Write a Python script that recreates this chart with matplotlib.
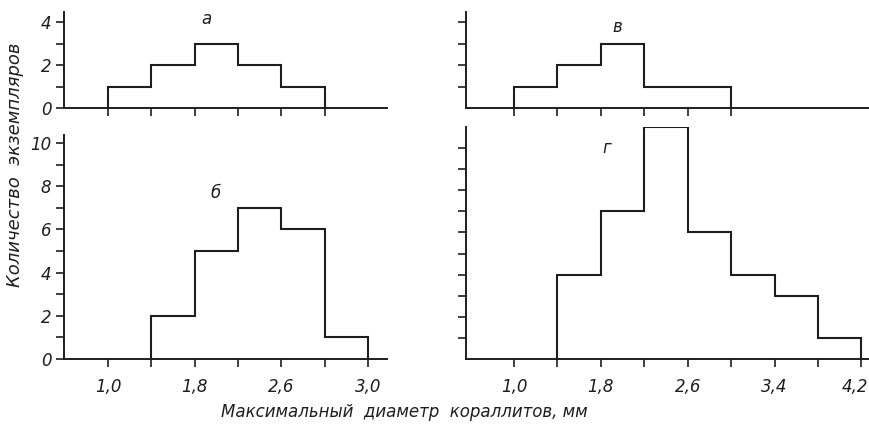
import numpy as np
import matplotlib.pyplot as plt
import matplotlib.transforms as mtransforms
from matplotlib.ticker import FixedLocator, MultipleLocator, NullFormatter

# histogram data (bin edges in mm, counts)
a_edges = [1.0, 1.4, 1.8, 2.2, 2.6, 3.0]
a_counts = [1, 2, 3, 2, 1]
b_edges = [1.4, 1.8, 2.2, 2.6, 3.0, 3.4]
b_counts = [2, 5, 7, 6, 1]
v_edges = [1.0, 1.4, 1.8, 2.2, 2.6, 3.0]
v_counts = [1, 2, 3, 1, 1]
g_edges = [1.4, 1.8, 2.2, 2.6, 3.0, 3.4, 3.8, 4.2]
g_counts = [4, 7, 11, 6, 4, 3, 1]

left_ticks = [1.0, 1.4, 1.8, 2.2, 2.6, 3.0, 3.4]
left_labels = ['1,0', '', '1,8', '', '2,6', '', '3,0']
right_ticks = [1.0, 1.4, 1.8, 2.2, 2.6, 3.0, 3.4, 3.8, 4.2]
right_labels = ['1,0', '', '1,8', '', '2,6', '', '3,4', '', '4,2']

W, H = 869, 425
ink = '#1e1e1e'
plt.rcParams['font.family'] = ['DejaVu Sans']
plt.rcParams['font.style'] = 'italic'

fig = plt.figure(figsize=(W / 100, H / 100), dpi=100)


def box(left, right, bottom, top):
    # pixel box -> figure fraction
    return [left / W, (H - bottom) / H, (right - left) / W, (bottom - top) / H]


def style(ax):
    for s in ['top', 'right']:
        ax.spines[s].set_visible(False)
    for s in ['left', 'bottom']:
        ax.spines[s].set_linewidth(1.4)
        ax.spines[s].set_color(ink)
    ax.tick_params(which='both', direction='out', length=6, width=1.2,
                   color=ink, labelcolor=ink, labelsize=12, pad=3)
    ax.patch.set_alpha(0)


ax_a = fig.add_axes(box(64, 387, 108, 12))
ax_b = fig.add_axes(box(64, 387, 359, 135))
ax_v = fig.add_axes(box(466, 869, 108, 12))
ax_g = fig.add_axes(box(466, 869, 359, 127))

panels = [
    (ax_a, a_edges, a_counts, 'а', (1.91, 4.15), 4.47),
    (ax_b, b_edges, b_counts, 'б', (1.99, 7.7), 10.37),
    (ax_v, v_edges, v_counts, 'в', (1.95, 3.75), 4.47),
    (ax_g, g_edges, g_counts, 'г', (1.85, 10.0), 11.0),
]

for ax, edges, counts, letter, pos, ytop in panels:
    style(ax)
    ax.stairs(counts, edges, baseline=0, fill=False, color=ink, linewidth=1.5)
    ax.set_ylim(0, ytop)
    ax.text(pos[0], pos[1], letter, fontsize=12, ha='center', va='center', color=ink)

for ax in (ax_a, ax_b):
    ax.set_xlim(0.594, 3.577)
for ax in (ax_v, ax_g):
    ax.set_xlim(0.558, 4.27)

# x ticks
ax_a.set_xticks(a_edges)
ax_a.xaxis.set_major_formatter(NullFormatter())
ax_v.set_xticks(v_edges)
ax_v.xaxis.set_major_formatter(NullFormatter())
ax_b.set_xticks(left_ticks)
ax_b.set_xticklabels(left_labels)
ax_g.set_xticks(right_ticks)
ax_g.set_xticklabels(right_labels)
for ax in (ax_b, ax_g):
    ax.tick_params(axis='x', pad=8)

# last label sits at the figure edge: nudge it left a little
last = ax_g.get_xticklabels()[-1]
last.set_transform(last.get_transform() +
                   mtransforms.ScaledTranslation(-6 / 100, 0, fig.dpi_scale_trans))

# y ticks
ax_a.yaxis.set_major_locator(FixedLocator([0, 2, 4]))
ax_a.yaxis.set_minor_locator(FixedLocator([1, 3]))
ax_a.set_yticklabels(['0', '2', '4'])
ax_b.yaxis.set_major_locator(FixedLocator([0, 2, 4, 6, 8, 10]))
ax_b.yaxis.set_minor_locator(MultipleLocator(1))
ax_v.yaxis.set_major_locator(FixedLocator([1, 2, 3, 4]))
ax_v.yaxis.set_major_formatter(NullFormatter())
ax_g.yaxis.set_major_locator(FixedLocator(list(range(1, 11))))
ax_g.yaxis.set_major_formatter(NullFormatter())
for ax in (ax_a, ax_b):
    ax.tick_params(axis='y', which='minor', length=6)

fig.text(404 / W, 1 - 412 / H, 'Максимальный  диаметр  кораллитов, мм',
         ha='center', va='center', fontsize=12, color=ink)
fig.text(15 / W, 1 - 165 / H, 'Количество  экземпляров', rotation=90,
         ha='center', va='center', fontsize=13, color=ink)

fig.savefig('out.png', dpi=100)
